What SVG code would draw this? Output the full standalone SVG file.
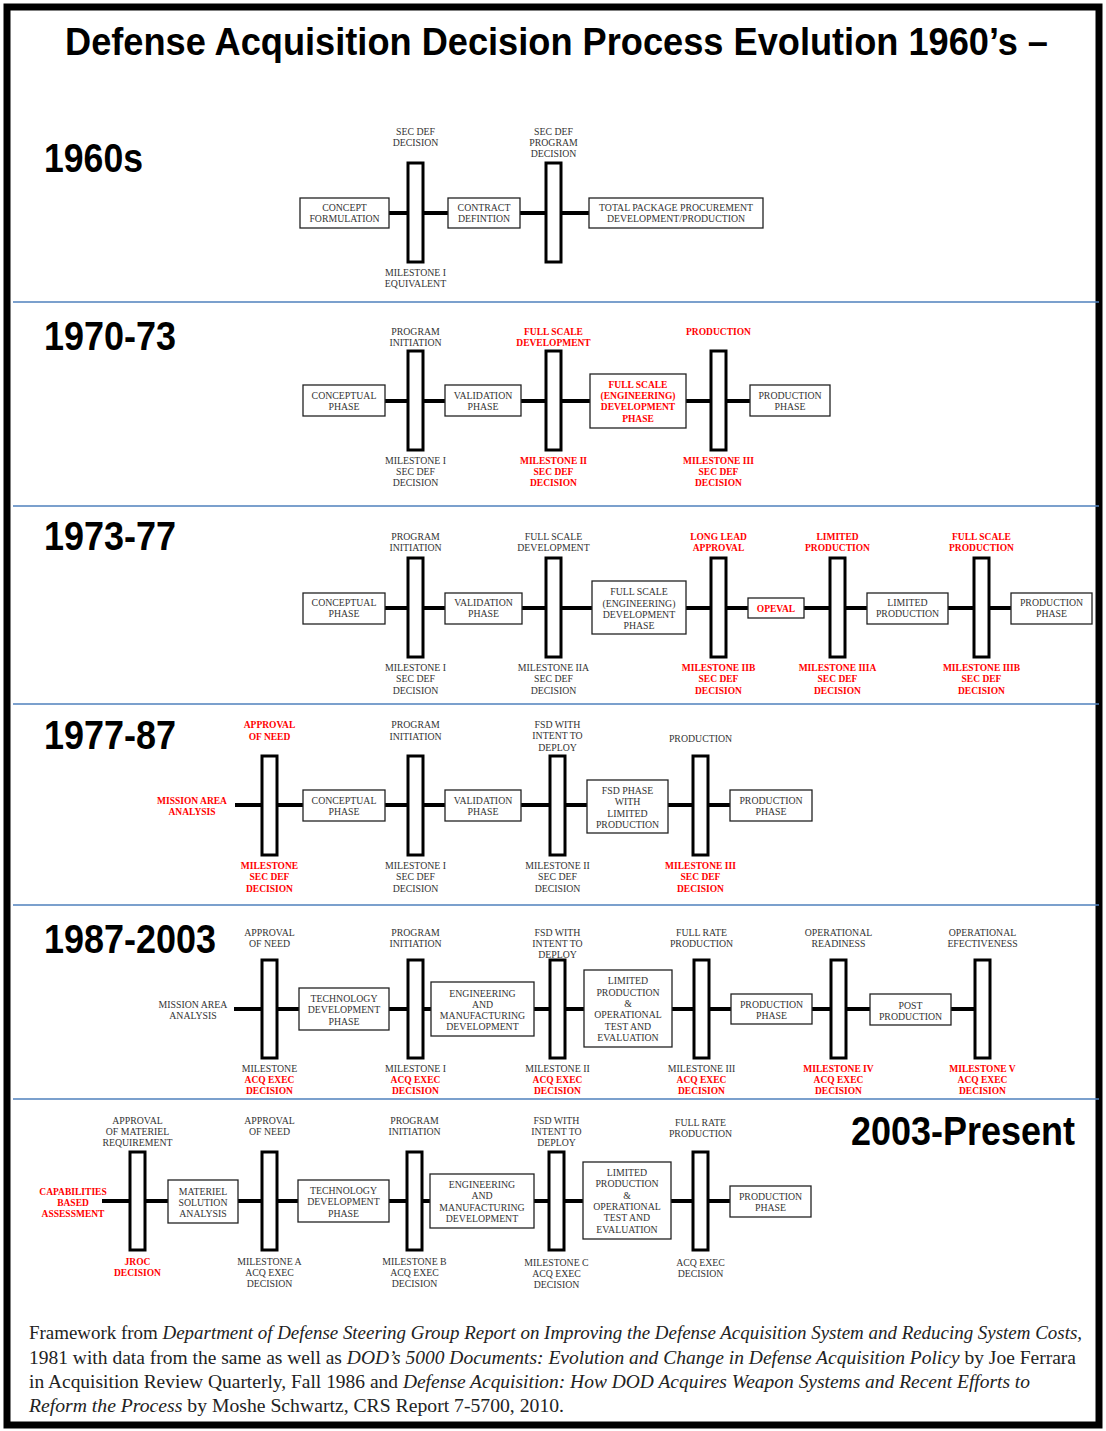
<svg xmlns="http://www.w3.org/2000/svg" width="1106" height="1431" viewBox="0 0 1106 1431">
<style>
.bx{fill:#fff;stroke:#222;stroke-width:1.3}
.ms{fill:#fff;stroke:#000;stroke-width:3}
.cn line{stroke:#000;stroke-width:4}
.t{font-family:"Liberation Serif","Times New Roman",serif;font-size:9.8px;fill:#333;text-anchor:middle}
.r{font-family:"Liberation Serif","Times New Roman",serif;font-size:9.5px;fill:#f00;font-weight:bold;text-anchor:middle}
.h{font-family:"Liberation Sans",Arial,sans-serif;font-weight:bold;font-size:40px;fill:#000}
.dv{stroke:#4f81bd;stroke-width:1.5}
.ft{font-family:"Liberation Serif","Times New Roman",serif;font-size:18.5px;fill:#222}
.i{font-style:italic}
</style>
<rect x="0" y="0" width="1106" height="1431" fill="#fff"/>
<rect x="7" y="7" width="1092" height="1418" fill="none" stroke="#000" stroke-width="7"/>
<text class="h" x="65" y="55" style="font-size:38px" textLength="983" lengthAdjust="spacingAndGlyphs">Defense Acquisition Decision Process Evolution 1960’s –</text>

<g id="dividers">
<line class="dv" x1="13" y1="302" x2="1099" y2="302"/>
<line class="dv" x1="13" y1="506" x2="1099" y2="506"/>
<line class="dv" x1="13" y1="704" x2="1099" y2="704"/>
<line class="dv" x1="13" y1="905" x2="1099" y2="905"/>
<line class="dv" x1="13" y1="1099" x2="1099" y2="1099"/>
</g>

<g id="era-labels">
<text class="h" x="44" y="172" textLength="99" lengthAdjust="spacingAndGlyphs">1960s</text>
<text class="h" x="44" y="350" textLength="132" lengthAdjust="spacingAndGlyphs">1970-73</text>
<text class="h" x="44" y="550" textLength="132" lengthAdjust="spacingAndGlyphs">1973-77</text>
<text class="h" x="44" y="749" textLength="132" lengthAdjust="spacingAndGlyphs">1977-87</text>
<text class="h" x="44" y="953" textLength="172" lengthAdjust="spacingAndGlyphs">1987-2003</text>
<text class="h" x="851" y="1145" textLength="224" lengthAdjust="spacingAndGlyphs">2003-Present</text>
</g>

<g id="connectors" class="cn">
<line x1="389" y1="213" x2="408" y2="213"/><line x1="423" y1="213" x2="448" y2="213"/><line x1="520" y1="213" x2="546" y2="213"/><line x1="561" y1="213" x2="589" y2="213"/>
<line x1="385" y1="401" x2="408" y2="401"/><line x1="423" y1="401" x2="445" y2="401"/><line x1="521" y1="401" x2="546" y2="401"/><line x1="561" y1="401" x2="590" y2="401"/><line x1="686" y1="401" x2="711" y2="401"/><line x1="726" y1="401" x2="750" y2="401"/>
<line x1="385" y1="608" x2="408" y2="608"/><line x1="423" y1="608" x2="445" y2="608"/><line x1="522" y1="608" x2="546" y2="608"/><line x1="561" y1="608" x2="592" y2="608"/><line x1="686" y1="608" x2="711" y2="608"/><line x1="726" y1="608" x2="748" y2="608"/><line x1="804" y1="608" x2="830" y2="608"/><line x1="845" y1="608" x2="867" y2="608"/><line x1="948" y1="608" x2="974" y2="608"/><line x1="989" y1="608" x2="1011" y2="608"/>
<line x1="235" y1="805" x2="262" y2="805"/><line x1="277" y1="805" x2="303" y2="805"/><line x1="385" y1="805" x2="408" y2="805"/><line x1="423" y1="805" x2="445" y2="805"/><line x1="521" y1="805" x2="550" y2="805"/><line x1="565" y1="805" x2="587" y2="805"/><line x1="668" y1="805" x2="693" y2="805"/><line x1="708" y1="805" x2="730" y2="805"/>
<line x1="234" y1="1009" x2="262" y2="1009"/><line x1="277" y1="1009" x2="299" y2="1009"/><line x1="389" y1="1009" x2="408" y2="1009"/><line x1="423" y1="1009" x2="431" y2="1009"/><line x1="534" y1="1009" x2="550" y2="1009"/><line x1="565" y1="1009" x2="584" y2="1009"/><line x1="672" y1="1009" x2="694" y2="1009"/><line x1="709" y1="1009" x2="731" y2="1009"/><line x1="812" y1="1009" x2="831" y2="1009"/><line x1="846" y1="1009" x2="870" y2="1009"/><line x1="951" y1="1009" x2="975" y2="1009"/>
<line x1="102" y1="1201" x2="130" y2="1201"/><line x1="145" y1="1201" x2="168" y2="1201"/><line x1="238" y1="1201" x2="262" y2="1201"/><line x1="277" y1="1201" x2="298" y2="1201"/><line x1="389" y1="1201" x2="407" y2="1201"/><line x1="422" y1="1201" x2="430" y2="1201"/><line x1="534" y1="1201" x2="549" y2="1201"/><line x1="564" y1="1201" x2="583" y2="1201"/><line x1="671" y1="1201" x2="693" y2="1201"/><line x1="708" y1="1201" x2="730" y2="1201"/>
</g>

<!-- ROW 1960s -->
<g id="r1-concept"><rect class="bx" x="300" y="198" width="89" height="30"/><text class="t" x="344.5" y="210.5">CONCEPT</text><text class="t" x="344.5" y="221.5">FORMULATION</text></g>
<g id="r1-ms1"><rect class="ms" x="408" y="163" width="15" height="99"/><text class="t" x="415.5" y="134.5">SEC DEF</text><text class="t" x="415.5" y="145.5">DECISION</text><text class="t" x="415.5" y="275.5">MILESTONE I</text><text class="t" x="415.5" y="287">EQUIVALENT</text></g>
<g id="r1-contract"><rect class="bx" x="448" y="198" width="72" height="30"/><text class="t" x="484" y="210.5">CONTRACT</text><text class="t" x="484" y="221.5">DEFINTION</text></g>
<g id="r1-ms2"><rect class="ms" x="546" y="163" width="15" height="99"/><text class="t" x="553.5" y="134.5">SEC DEF</text><text class="t" x="553.5" y="145.5">PROGRAM</text><text class="t" x="553.5" y="156.5">DECISION</text></g>
<g id="r1-total"><rect class="bx" x="589" y="198" width="174" height="30"/><text class="t" x="676" y="210.5">TOTAL PACKAGE PROCUREMENT</text><text class="t" x="676" y="221.5">DEVELOPMENT/PRODUCTION</text></g>

<!-- ROW 1970-73 -->
<g id="r2-concept"><rect class="bx" x="303" y="385" width="82" height="31"/><text class="t" x="344" y="398.5">CONCEPTUAL</text><text class="t" x="344" y="409.5">PHASE</text></g>
<g id="r2-ms1"><rect class="ms" x="408" y="351" width="15" height="99"/><text class="t" x="415.5" y="334.5">PROGRAM</text><text class="t" x="415.5" y="345.5">INITIATION</text><text class="t" x="415.5" y="463.5">MILESTONE I</text><text class="t" x="415.5" y="474.5">SEC DEF</text><text class="t" x="415.5" y="486">DECISION</text></g>
<g id="r2-valid"><rect class="bx" x="445" y="385" width="76" height="31"/><text class="t" x="483" y="398.5">VALIDATION</text><text class="t" x="483" y="409.5">PHASE</text></g>
<g id="r2-ms2"><rect class="ms" x="546" y="351" width="15" height="99"/><text class="r" x="553.5" y="334.5">FULL SCALE</text><text class="r" x="553.5" y="345.5">DEVELOPMENT</text><text class="r" x="553.5" y="463.5">MILESTONE II</text><text class="r" x="553.5" y="474.5">SEC DEF</text><text class="r" x="553.5" y="486">DECISION</text></g>
<g id="r2-fsd"><rect class="bx" x="590" y="374" width="96" height="54"/><text class="r" x="638" y="387.5">FULL SCALE</text><text class="r" x="638" y="398.5">(ENGINEERING)</text><text class="r" x="638" y="410">DEVELOPMENT</text><text class="r" x="638" y="421.5">PHASE</text></g>
<g id="r2-ms3"><rect class="ms" x="711" y="351" width="15" height="99"/><text class="r" x="718.5" y="334.5">PRODUCTION</text><text class="r" x="718.5" y="463.5">MILESTONE III</text><text class="r" x="718.5" y="474.5">SEC DEF</text><text class="r" x="718.5" y="486">DECISION</text></g>
<g id="r2-prod"><rect class="bx" x="750" y="385" width="80" height="31"/><text class="t" x="790" y="398.5">PRODUCTION</text><text class="t" x="790" y="409.5">PHASE</text></g>

<!-- ROW 1973-77 -->
<g id="r3-concept"><rect class="bx" x="303" y="593" width="82" height="31"/><text class="t" x="344" y="605.5">CONCEPTUAL</text><text class="t" x="344" y="616.5">PHASE</text></g>
<g id="r3-ms1"><rect class="ms" x="408" y="558" width="15" height="99"/><text class="t" x="415.5" y="539.5">PROGRAM</text><text class="t" x="415.5" y="550.5">INITIATION</text><text class="t" x="415.5" y="670.5">MILESTONE I</text><text class="t" x="415.5" y="682">SEC DEF</text><text class="t" x="415.5" y="693.5">DECISION</text></g>
<g id="r3-valid"><rect class="bx" x="445" y="593" width="77" height="31"/><text class="t" x="483.5" y="605.5">VALIDATION</text><text class="t" x="483.5" y="616.5">PHASE</text></g>
<g id="r3-ms2"><rect class="ms" x="546" y="558" width="15" height="99"/><text class="t" x="553.5" y="539.5">FULL SCALE</text><text class="t" x="553.5" y="550.5">DEVELOPMENT</text><text class="t" x="553.5" y="670.5">MILESTONE IIA</text><text class="t" x="553.5" y="682">SEC DEF</text><text class="t" x="553.5" y="693.5">DECISION</text></g>
<g id="r3-fsd"><rect class="bx" x="592" y="581" width="94" height="53"/><text class="t" x="639" y="595">FULL SCALE</text><text class="t" x="639" y="606.5">(ENGINEERING)</text><text class="t" x="639" y="617.5">DEVELOPMENT</text><text class="t" x="639" y="629">PHASE</text></g>
<g id="r3-ms3"><rect class="ms" x="711" y="558" width="15" height="99"/><text class="r" x="718.5" y="539.5">LONG LEAD</text><text class="r" x="718.5" y="550.5">APPROVAL</text><text class="r" x="718.5" y="670.5">MILESTONE IIB</text><text class="r" x="718.5" y="682">SEC DEF</text><text class="r" x="718.5" y="693.5">DECISION</text></g>
<g id="r3-opeval"><rect class="bx" x="748" y="598" width="56" height="20"/><text class="r" x="776" y="611.5">OPEVAL</text></g>
<g id="r3-ms4"><rect class="ms" x="830" y="558" width="15" height="99"/><text class="r" x="837.5" y="539.5">LIMITED</text><text class="r" x="837.5" y="550.5">PRODUCTION</text><text class="r" x="837.5" y="670.5">MILESTONE IIIA</text><text class="r" x="837.5" y="682">SEC DEF</text><text class="r" x="837.5" y="693.5">DECISION</text></g>
<g id="r3-limited"><rect class="bx" x="867" y="593" width="81" height="31"/><text class="t" x="907.5" y="605.5">LIMITED</text><text class="t" x="907.5" y="616.5">PRODUCTION</text></g>
<g id="r3-ms5"><rect class="ms" x="974" y="558" width="15" height="99"/><text class="r" x="981.5" y="539.5">FULL SCALE</text><text class="r" x="981.5" y="550.5">PRODUCTION</text><text class="r" x="981.5" y="670.5">MILESTONE IIIB</text><text class="r" x="981.5" y="682">SEC DEF</text><text class="r" x="981.5" y="693.5">DECISION</text></g>
<g id="r3-prod"><rect class="bx" x="1011" y="593" width="81" height="31"/><text class="t" x="1051.5" y="605.5">PRODUCTION</text><text class="t" x="1051.5" y="616.5">PHASE</text></g>

<!-- ROW 1977-87 -->
<g id="r4-maa"><text class="r" x="192" y="803.5">MISSION AREA</text><text class="r" x="192" y="814.5">ANALYSIS</text></g>
<g id="r4-ms1"><rect class="ms" x="262" y="756" width="15" height="99"/><text class="r" x="269.5" y="727.5">APPROVAL</text><text class="r" x="269.5" y="739.5">OF NEED</text><text class="r" x="269.5" y="868.5">MILESTONE</text><text class="r" x="269.5" y="879.5">SEC DEF</text><text class="r" x="269.5" y="891.5">DECISION</text></g>
<g id="r4-concept"><rect class="bx" x="303" y="790" width="82" height="31"/><text class="t" x="344" y="803.5">CONCEPTUAL</text><text class="t" x="344" y="814.5">PHASE</text></g>
<g id="r4-ms2"><rect class="ms" x="408" y="756" width="15" height="99"/><text class="t" x="415.5" y="727.5">PROGRAM</text><text class="t" x="415.5" y="739.5">INITIATION</text><text class="t" x="415.5" y="868.5">MILESTONE I</text><text class="t" x="415.5" y="880">SEC DEF</text><text class="t" x="415.5" y="891.5">DECISION</text></g>
<g id="r4-valid"><rect class="bx" x="445" y="790" width="76" height="31"/><text class="t" x="483" y="803.5">VALIDATION</text><text class="t" x="483" y="814.5">PHASE</text></g>
<g id="r4-ms3"><rect class="ms" x="550" y="756" width="15" height="99"/><text class="t" x="557.5" y="727.5">FSD WITH</text><text class="t" x="557.5" y="739">INTENT TO</text><text class="t" x="557.5" y="750.5">DEPLOY</text><text class="t" x="557.5" y="868.5">MILESTONE II</text><text class="t" x="557.5" y="880">SEC DEF</text><text class="t" x="557.5" y="891.5">DECISION</text></g>
<g id="r4-fsd"><rect class="bx" x="587" y="780" width="81" height="53"/><text class="t" x="627.5" y="793.5">FSD PHASE</text><text class="t" x="627.5" y="804.5">WITH</text><text class="t" x="627.5" y="816.5">LIMITED</text><text class="t" x="627.5" y="827.5">PRODUCTION</text></g>
<g id="r4-ms4"><rect class="ms" x="693" y="756" width="15" height="99"/><text class="t" x="700.5" y="741.5">PRODUCTION</text><text class="r" x="700.5" y="869">MILESTONE III</text><text class="r" x="700.5" y="880">SEC DEF</text><text class="r" x="700.5" y="892">DECISION</text></g>
<g id="r4-prod"><rect class="bx" x="730" y="790" width="82" height="31"/><text class="t" x="771" y="803.5">PRODUCTION</text><text class="t" x="771" y="814.5">PHASE</text></g>

<!-- ROW 1987-2003 -->
<g id="r5-maa"><text class="t" x="193" y="1007.5">MISSION AREA</text><text class="t" x="193" y="1018.5">ANALYSIS</text></g>
<g id="r5-ms1"><rect class="ms" x="262" y="960" width="15" height="98"/><text class="t" x="269.5" y="935.5">APPROVAL</text><text class="t" x="269.5" y="946.5">OF NEED</text><text class="t" x="269.5" y="1071.5">MILESTONE</text><text class="r" x="269.5" y="1082.5">ACQ EXEC</text><text class="r" x="269.5" y="1094">DECISION</text></g>
<g id="r5-td"><rect class="bx" x="299" y="988" width="90" height="42"/><text class="t" x="344" y="1001.5">TECHNOLOGY</text><text class="t" x="344" y="1013">DEVELOPMENT</text><text class="t" x="344" y="1024.5">PHASE</text></g>
<g id="r5-ms2"><rect class="ms" x="408" y="960" width="15" height="98"/><text class="t" x="415.5" y="935.5">PROGRAM</text><text class="t" x="415.5" y="946.5">INITIATION</text><text class="t" x="415.5" y="1071.5">MILESTONE I</text><text class="r" x="415.5" y="1082.5">ACQ EXEC</text><text class="r" x="415.5" y="1094">DECISION</text></g>
<g id="r5-emd"><rect class="bx" x="431" y="982" width="103" height="54"/><text class="t" x="482.5" y="996.5">ENGINEERING</text><text class="t" x="482.5" y="1007.5">AND</text><text class="t" x="482.5" y="1018.5">MANUFACTURING</text><text class="t" x="482.5" y="1029.5">DEVELOPMENT</text></g>
<g id="r5-ms3"><rect class="ms" x="550" y="960" width="15" height="98"/><text class="t" x="557.5" y="935.5">FSD WITH</text><text class="t" x="557.5" y="946.5">INTENT TO</text><text class="t" x="557.5" y="957.5">DEPLOY</text><text class="t" x="557.5" y="1071.5">MILESTONE II</text><text class="r" x="557.5" y="1082.5">ACQ EXEC</text><text class="r" x="557.5" y="1094">DECISION</text></g>
<g id="r5-lp"><rect class="bx" x="584" y="970" width="88" height="77"/><text class="t" x="628" y="983.5">LIMITED</text><text class="t" x="628" y="995.5">PRODUCTION</text><text class="t" x="628" y="1006.5">&amp;</text><text class="t" x="628" y="1017.5">OPERATIONAL</text><text class="t" x="628" y="1029.5">TEST AND</text><text class="t" x="628" y="1040.5">EVALUATION</text></g>
<g id="r5-ms4"><rect class="ms" x="694" y="960" width="15" height="98"/><text class="t" x="701.5" y="935.5">FULL RATE</text><text class="t" x="701.5" y="946.5">PRODUCTION</text><text class="t" x="701.5" y="1071.5">MILESTONE III</text><text class="r" x="701.5" y="1082.5">ACQ EXEC</text><text class="r" x="701.5" y="1094">DECISION</text></g>
<g id="r5-prod"><rect class="bx" x="731" y="994" width="81" height="30"/><text class="t" x="771.5" y="1007.5">PRODUCTION</text><text class="t" x="771.5" y="1018.5">PHASE</text></g>
<g id="r5-ms5"><rect class="ms" x="831" y="960" width="15" height="98"/><text class="t" x="838.5" y="935.5">OPERATIONAL</text><text class="t" x="838.5" y="946.5">READINESS</text><text class="r" x="838.5" y="1071.5">MILESTONE IV</text><text class="r" x="838.5" y="1082.5">ACQ EXEC</text><text class="r" x="838.5" y="1094">DECISION</text></g>
<g id="r5-post"><rect class="bx" x="870" y="994" width="81" height="31"/><text class="t" x="910.5" y="1008.5">POST</text><text class="t" x="910.5" y="1019.5">PRODUCTION</text></g>
<g id="r5-ms6"><rect class="ms" x="975" y="960" width="15" height="98"/><text class="t" x="982.5" y="935.5">OPERATIONAL</text><text class="t" x="982.5" y="946.5">EFECTIVENESS</text><text class="r" x="982.5" y="1071.5">MILESTONE V</text><text class="r" x="982.5" y="1082.5">ACQ EXEC</text><text class="r" x="982.5" y="1094">DECISION</text></g>

<!-- ROW 2003-Present -->
<g id="r6-cba"><text class="r" x="73" y="1194.5">CAPABILITIES</text><text class="r" x="73" y="1205.5">BASED</text><text class="r" x="73" y="1216.5">ASSESSMENT</text></g>
<g id="r6-ms1"><rect class="ms" x="130" y="1152" width="15" height="98"/><text class="t" x="137.5" y="1123.5">APPROVAL</text><text class="t" x="137.5" y="1134.5">OF MATERIEL</text><text class="t" x="137.5" y="1145.5">REQUIREMENT</text><text class="r" x="137.5" y="1264.5">JROC</text><text class="r" x="137.5" y="1275.5">DECISION</text></g>
<g id="r6-msa"><rect class="bx" x="168" y="1180" width="70" height="43"/><text class="t" x="203" y="1194.5">MATERIEL</text><text class="t" x="203" y="1205.5">SOLUTION</text><text class="t" x="203" y="1216.5">ANALYSIS</text></g>
<g id="r6-ms2"><rect class="ms" x="262" y="1152" width="15" height="98"/><text class="t" x="269.5" y="1123.5">APPROVAL</text><text class="t" x="269.5" y="1134.5">OF NEED</text><text class="t" x="269.5" y="1264.5">MILESTONE A</text><text class="t" x="269.5" y="1275.5">ACQ EXEC</text><text class="t" x="269.5" y="1286.5">DECISION</text></g>
<g id="r6-td"><rect class="bx" x="298" y="1180" width="91" height="42"/><text class="t" x="343.5" y="1193.5">TECHNOLOGY</text><text class="t" x="343.5" y="1204.5">DEVELOPMENT</text><text class="t" x="343.5" y="1216.5">PHASE</text></g>
<g id="r6-ms3"><rect class="ms" x="407" y="1152" width="15" height="98"/><text class="t" x="414.5" y="1123.5">PROGRAM</text><text class="t" x="414.5" y="1134.5">INITIATION</text><text class="t" x="414.5" y="1264.5">MILESTONE B</text><text class="t" x="414.5" y="1275.5">ACQ EXEC</text><text class="t" x="414.5" y="1287">DECISION</text></g>
<g id="r6-emd"><rect class="bx" x="430" y="1174" width="104" height="54"/><text class="t" x="482" y="1187.5">ENGINEERING</text><text class="t" x="482" y="1198.5">AND</text><text class="t" x="482" y="1210.5">MANUFACTURING</text><text class="t" x="482" y="1221.5">DEVELOPMENT</text></g>
<g id="r6-ms4"><rect class="ms" x="549" y="1152" width="15" height="98"/><text class="t" x="556.5" y="1123.5">FSD WITH</text><text class="t" x="556.5" y="1134.5">INTENT TO</text><text class="t" x="556.5" y="1146">DEPLOY</text><text class="t" x="556.5" y="1265.5">MILESTONE C</text><text class="t" x="556.5" y="1276.5">ACQ EXEC</text><text class="t" x="556.5" y="1287.5">DECISION</text></g>
<g id="r6-lp"><rect class="bx" x="583" y="1162" width="88" height="77"/><text class="t" x="627" y="1175.5">LIMITED</text><text class="t" x="627" y="1186.5">PRODUCTION</text><text class="t" x="627" y="1198.5">&amp;</text><text class="t" x="627" y="1209.5">OPERATIONAL</text><text class="t" x="627" y="1220.5">TEST AND</text><text class="t" x="627" y="1232.5">EVALUATION</text></g>
<g id="r6-ms5"><rect class="ms" x="693" y="1152" width="15" height="98"/><text class="t" x="700.5" y="1125.5">FULL RATE</text><text class="t" x="700.5" y="1136.5">PRODUCTION</text><text class="t" x="700.5" y="1265.5">ACQ EXEC</text><text class="t" x="700.5" y="1276.5">DECISION</text></g>
<g id="r6-prod"><rect class="bx" x="730" y="1186" width="81" height="31"/><text class="t" x="770.5" y="1199.5">PRODUCTION</text><text class="t" x="770.5" y="1210.5">PHASE</text></g>

<g id="footer">
<text class="ft" x="29" y="1339" textLength="1053" lengthAdjust="spacingAndGlyphs">Framework from <tspan class="i">Department of Defense Steering Group Report on Improving the Defense Acquisition System and Reducing System Costs,</tspan></text>
<text class="ft" x="29" y="1364" textLength="1047" lengthAdjust="spacingAndGlyphs">1981 with data from the same as well as <tspan class="i">DOD’s 5000 Documents: Evolution and Change in Defense Acquisition Policy</tspan> by Joe Ferrara</text>
<text class="ft" x="29" y="1388" textLength="1001" lengthAdjust="spacingAndGlyphs">in Acquisition Review Quarterly, Fall 1986 and <tspan class="i">Defense Acquisition: How DOD Acquires Weapon Systems and Recent Efforts to</tspan></text>
<text class="ft" x="29" y="1412" textLength="535" lengthAdjust="spacingAndGlyphs"><tspan class="i">Reform the Process</tspan> by Moshe Schwartz, CRS Report 7-5700, 2010.</text>
</g>
</svg>
